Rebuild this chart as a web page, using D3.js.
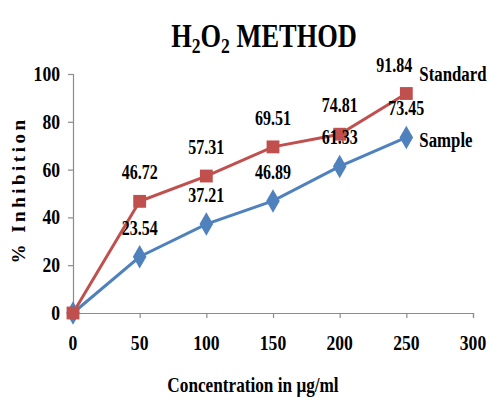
<!DOCTYPE html>
<html>
<head>
<meta charset="utf-8">
<script src="https://cdn.jsdelivr.net/npm/d3@7"></script>
<style>
  body { margin: 0; background: #fff; }
  svg text { font-family: "Liberation Serif", "Times New Roman", serif; font-weight: bold; fill: #000; }
</style>
</head>
<body>
<svg id="chart" width="488" height="401"></svg>
<script>
const concentrations = [0, 50, 100, 150, 200, 250];
const standardValues = [0, 46.72, 57.31, 69.51, 74.81, 91.84];
const sampleValues = [0, 23.54, 37.21, 46.89, 61.33, 73.45];
const xTicks = [0, 50, 100, 150, 200, 250, 300];
const yTicks = [0, 20, 40, 60, 80, 100];
const seriesNames = ["Standard", "Sample"];

const series = [
    { name: seriesNames[0], values: standardValues, color: "#C0504D", marker: d3.symbolSquare, size: 165, legendDy: -20, lastLabelDx: -12 },
    { name: seriesNames[1], values: sampleValues, color: "#4F81BD", marker: d3.symbolDiamond, size: 160, legendDy: 3, lastLabelDx: 0 }
];

const svg = d3.select("#chart");
const x = d3.scaleLinear().domain([0, 300]).range([73, 473]);
const y = d3.scaleLinear().domain([0, 100]).range([313, 74]);
const axisColor = "#8c8c8c";
const sx = 0.8; // condensed look

// condensed text helper
function ctext(parent, tx, ty, str, size, anchor, scale = sx) {
    return parent.append("text")
        .attr("transform", `translate(${tx},${ty}) scale(${scale},1)`)
        .attr("text-anchor", anchor)
        .attr("font-size", size)
        .text(str);
}

// title with subscripts
const title = svg.append("text")
    .attr("transform", `translate(264,47) scale(0.8,1)`)
    .attr("text-anchor", "middle")
    .attr("font-size", 33);
title.append("tspan").text("H");
title.append("tspan").attr("font-size", 22).attr("dy", 6).text("2");
title.append("tspan").attr("dy", -6).text("O");
title.append("tspan").attr("font-size", 22).attr("dy", 6).text("2");
title.append("tspan").attr("dy", -6).text(" METHOD");

// axes
const xAxis = svg.append("g").attr("transform", `translate(0,${y(0)})`)
    .call(d3.axisBottom(x).tickValues(xTicks).tickSize(5).tickFormat(""));
const yAxis = svg.append("g").attr("transform", `translate(${x(0)},0)`)
    .call(d3.axisLeft(y).tickValues(yTicks).tickSize(5).tickFormat(""));
[xAxis, yAxis].forEach(a => {
    a.selectAll("path").attr("stroke", axisColor).attr("stroke-width", 1.2);
    a.selectAll("line").attr("stroke", axisColor).attr("stroke-width", 1.2);
});
xTicks.forEach(t => ctext(svg, x(t), 350, t, 22, "middle"));
yTicks.forEach(t => ctext(svg, 60, y(t) + 7, t, 22, "end"));

// axis titles
ctext(svg, 253, 392, "Concentration in μg/ml", 21, "middle", 0.82);
svg.append("text")
    .attr("transform", `translate(25,190) rotate(-90)`)
    .attr("text-anchor", "middle")
    .attr("font-size", 19)
    .attr("letter-spacing", 3.5)
    .text("% Inhibition");

// lines + markers
const line = d3.line().x((d, i) => x(concentrations[i])).y(d => y(d));
series.forEach(s => {
    svg.append("path")
        .attr("d", line(s.values))
        .attr("fill", "none")
        .attr("stroke", s.color)
        .attr("stroke-width", 3);
});
[series[1], series[0]].forEach(s => {
    svg.selectAll(null).data(s.values).enter().append("path")
        .attr("d", d3.symbol().type(s.marker).size(s.size))
        .attr("transform", (d, i) => `translate(${x(concentrations[i])},${y(d)})`)
        .attr("fill", s.color);
});

// data labels and series names
series.forEach(s => {
    const last = s.values.length - 1;
    s.values.forEach((v, i) => {
        if (i === 0) return;
        const dx = i === last ? s.lastLabelDx : 0;
        ctext(svg, x(concentrations[i]) + dx, y(v) - 22, v.toFixed(2), 20, "middle");
    });
    ctext(svg, x(concentrations[last]) + 13, y(s.values[last]) + s.legendDy + 7, s.name, 21, "start", 0.8);
});
</script>
</body>
</html>
